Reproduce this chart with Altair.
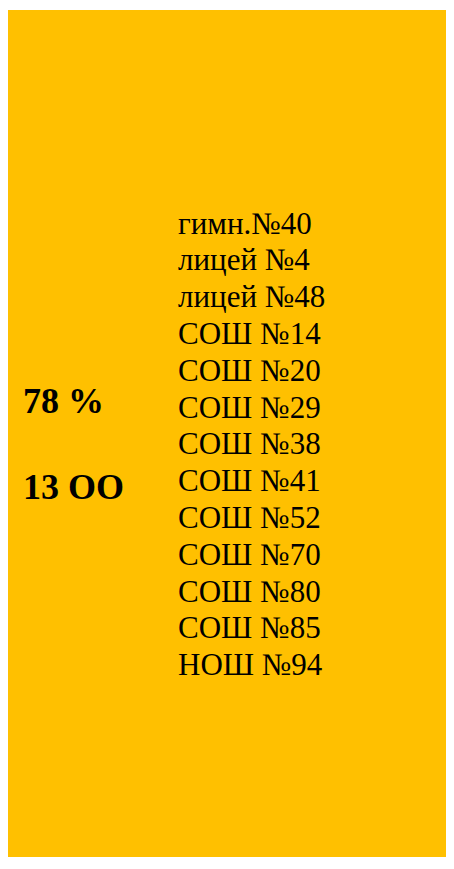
import altair as alt
import pandas as pd

schools = ["гимн.№40", "лицей №4", "лицей №48", "СОШ №14", "СОШ №20", "СОШ №29",
           "СОШ №38", "СОШ №41", "СОШ №52", "СОШ №70", "СОШ №80", "СОШ №85", "НОШ №94"]
summary_labels = ["78 %", "13 ОО"]
summary_rows = [4.875, 7.21]

df_list = pd.DataFrame({"label": schools, "row": list(range(len(schools)))})
df_sum = pd.DataFrame({"label": summary_labels, "row": summary_rows})

H = 847
yscale = alt.Scale(domain=[-6.076, -6.076 + H / 36.8], range=[0, H], zero=False, nice=False)

lst = alt.Chart(df_list).mark_text(
    align="left", baseline="alphabetic", font="Liberation Serif", fontSize=31, color="black"
).encode(
    x=alt.value(170),
    y=alt.Y("row:Q", scale=yscale, axis=None),
    text="label:N",
)

summ = alt.Chart(df_sum).mark_text(
    align="left", baseline="alphabetic", font="Liberation Serif", fontSize=36,
    fontWeight="bold", color="black"
).encode(
    x=alt.value(15),
    y=alt.Y("row:Q", scale=yscale, axis=None),
    text="label:N",
)

chart = alt.layer(lst, summ).properties(
    width=438, height=H,
    autosize=alt.AutoSizeParams(type="none"),
    padding={"left": 0, "top": 2, "right": 0, "bottom": 0},
    background="white",
).configure_view(fill="#FFC000", stroke=None)

chart.save("out.html", embed_options={"renderer": "svg", "actions": False})
